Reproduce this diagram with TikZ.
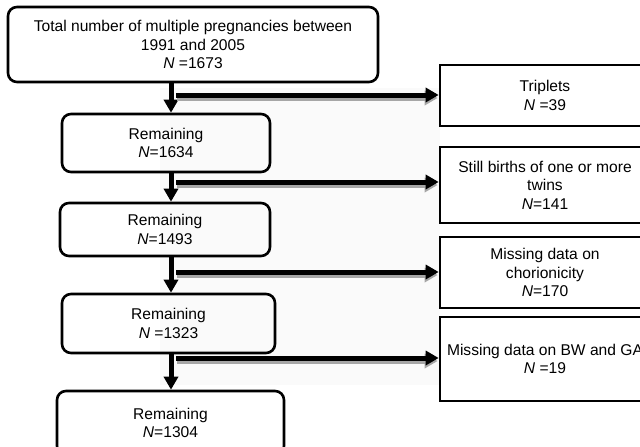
\documentclass[tikz,border=0pt]{standalone}
\usepackage{fontspec}
\setmainfont{Liberation Sans}
\usetikzlibrary{arrows.meta}
\begin{document}
\begin{tikzpicture}[x=1pt,y=-1pt,
  lbl/.style={font=\fontsize{15.6}{18.5}\selectfont, align=center, inner sep=0pt},
  leftbox/.style={lbl, draw, line width=2.6pt, rounded corners=9pt},
  rightbox/.style={lbl, draw, line width=2.6pt, minimum width=210pt},
  flowarrow/.style={line width=5pt, -{Triangle[length=13pt,width=14pt]}},
  shadowarrow/.style={line width=5pt, draw=black!35, -{Triangle[length=13pt,width=14pt]}}]
\useasboundingbox (0,0) rectangle (640,447);
\clip (0,0) rectangle (640,447);
\fill[black!2] (160,88) rectangle (440,385);
% left column
\node[leftbox, minimum width=370pt, minimum height=75pt] (top) at (193,44.5)
  {Total number of multiple pregnancies between\\1991 and 2005\\\textit{N} =1673};
\node[leftbox, minimum width=208pt, minimum height=58pt] (r1) at (166,143)
  {Remaining\\\textit{N}=1634};
\node[leftbox, minimum width=210pt, minimum height=53pt] (r2) at (165,229.5)
  {Remaining\\\textit{N}=1493};
\node[leftbox, minimum width=213pt, minimum height=59pt] (r3) at (168.5,323.5)
  {Remaining\\\textit{N} =1323};
\node[leftbox, minimum width=227pt, minimum height=64pt] (r4) at (170.5,423)
  {Remaining\\\textit{N}=1304};
% right column
\node[rightbox, minimum height=61pt] (trip) at (545,95.5)
  {Triplets\\\textit{N} =39};
\node[rightbox, minimum height=76pt] (sb) at (545,185)
  {Still births of one or more\\twins\\\textit{N}=141};
\node[rightbox, minimum height=71pt] (ch) at (545,272.5)
  {Missing data on\\chorionicity\\\textit{N}=170};
\node[rightbox, minimum height=84pt] (bw) at (545,359)
  {Missing data on BW and GA\\\textit{N} =19};
% helper coordinates
\coordinate (vx) at (171,0);
\coordinate (h1) at (176,95);
\coordinate (h2) at (176,182);
\coordinate (h3) at (176,272);
\coordinate (h4) at (176,358);
% vertical arrows
\draw[flowarrow] (top.south -| vx) -- (r1.north -| vx);
\draw[flowarrow] (r1.south -| vx) -- (r2.north -| vx);
\draw[flowarrow] (r2.south -| vx) -- (r3.north -| vx);
\draw[flowarrow] (r3.south -| vx) -- (r4.north -| vx);
% horizontal arrows with shadow
\foreach \h/\b in {h1/trip, h2/sb, h3/ch, h4/bw}{
  \draw[shadowarrow] ([shift={(1,3)}]\h) -- ([shift={(-1,3)}]\h -| \b.west);
  \draw[flowarrow] (\h) -- (\h -| \b.west);
}
\end{tikzpicture}
\end{document}
